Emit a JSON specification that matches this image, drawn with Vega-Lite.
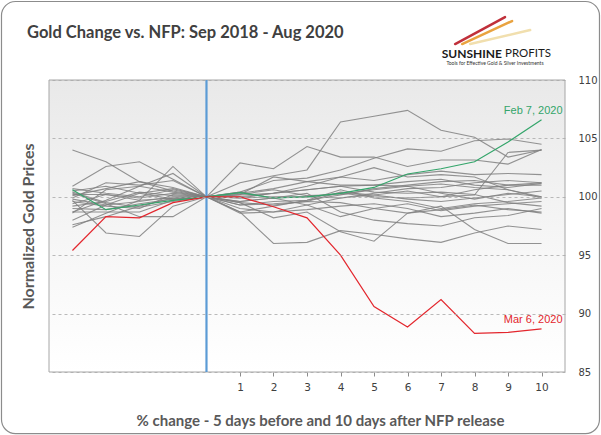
{
  "$schema": "https://vega.github.io/schema/vega-lite/v6.json",
  "width": 516,
  "height": 292,
  "autosize": "none",
  "padding": {"left": 49, "top": 80, "right": 36, "bottom": 63},
  "background": "white",
  "title": {
    "text": "Gold Change vs. NFP: Sep 2018 - Aug 2020",
    "anchor": "start",
    "frame": "group",
    "dx": -22,
    "offset": 0,
    "dy": 54,
    "baseline": "alphabetic",
    "font": "Lato",
    "fontSize": 16.5,
    "fontWeight": "bold",
    "color": "#404040"
  },
  "data": {
    "values": [
      {"s": "s01", "d": -4, "v": 100.9}, {"s": "s01", "d": -3, "v": 102.6}, {"s": "s01", "d": -2, "v": 103.0}, {"s": "s01", "d": -1, "v": 101.5}, {"s": "s01", "d": 0, "v": 100}, {"s": "s01", "d": 1, "v": 101.2}, {"s": "s01", "d": 2, "v": 101.8}, {"s": "s01", "d": 3, "v": 102.3}, {"s": "s01", "d": 4, "v": 106.4}, {"s": "s01", "d": 5, "v": 106.9}, {"s": "s01", "d": 6, "v": 107.4}, {"s": "s01", "d": 7, "v": 105.7}, {"s": "s01", "d": 8, "v": 105.1}, {"s": "s01", "d": 9, "v": 103.4}, {"s": "s01", "d": 10, "v": 104.0},
      {"s": "s02", "d": -4, "v": 104.0}, {"s": "s02", "d": -3, "v": 103.0}, {"s": "s02", "d": -2, "v": 101.3}, {"s": "s02", "d": -1, "v": 100.5}, {"s": "s02", "d": 0, "v": 100}, {"s": "s02", "d": 1, "v": 102.9}, {"s": "s02", "d": 2, "v": 102.4}, {"s": "s02", "d": 3, "v": 104.3}, {"s": "s02", "d": 4, "v": 103.4}, {"s": "s02", "d": 5, "v": 103.4}, {"s": "s02", "d": 6, "v": 102.6}, {"s": "s02", "d": 7, "v": 103.15}, {"s": "s02", "d": 8, "v": 103.15}, {"s": "s02", "d": 9, "v": 102.8}, {"s": "s02", "d": 10, "v": 104.06},
      {"s": "s03", "d": -4, "v": 98.7}, {"s": "s03", "d": -3, "v": 99.7}, {"s": "s03", "d": -2, "v": 100.9}, {"s": "s03", "d": -1, "v": 102.0}, {"s": "s03", "d": 0, "v": 100}, {"s": "s03", "d": 1, "v": 100.4}, {"s": "s03", "d": 2, "v": 101.4}, {"s": "s03", "d": 3, "v": 101.6}, {"s": "s03", "d": 4, "v": 102.3}, {"s": "s03", "d": 5, "v": 103.3}, {"s": "s03", "d": 6, "v": 104.1}, {"s": "s03", "d": 7, "v": 103.9}, {"s": "s03", "d": 8, "v": 104.8}, {"s": "s03", "d": 9, "v": 104.95}, {"s": "s03", "d": 10, "v": 104.5},
      {"s": "s04", "d": -4, "v": 99.9}, {"s": "s04", "d": -3, "v": 101.2}, {"s": "s04", "d": -2, "v": 101.0}, {"s": "s04", "d": -1, "v": 101.4}, {"s": "s04", "d": 0, "v": 100}, {"s": "s04", "d": 1, "v": 99.6}, {"s": "s04", "d": 2, "v": 99.9}, {"s": "s04", "d": 3, "v": 100.0}, {"s": "s04", "d": 4, "v": 100.3}, {"s": "s04", "d": 5, "v": 100.0}, {"s": "s04", "d": 6, "v": 99.9}, {"s": "s04", "d": 7, "v": 100.0}, {"s": "s04", "d": 8, "v": 100.15}, {"s": "s04", "d": 9, "v": 103.8}, {"s": "s04", "d": 10, "v": 104.0},
      {"s": "s05", "d": -4, "v": 99.7}, {"s": "s05", "d": -3, "v": 96.9}, {"s": "s05", "d": -2, "v": 96.6}, {"s": "s05", "d": -1, "v": 99.2}, {"s": "s05", "d": 0, "v": 100}, {"s": "s05", "d": 1, "v": 98.7}, {"s": "s05", "d": 2, "v": 96.0}, {"s": "s05", "d": 3, "v": 96.1}, {"s": "s05", "d": 4, "v": 97.1}, {"s": "s05", "d": 5, "v": 96.8}, {"s": "s05", "d": 6, "v": 96.4}, {"s": "s05", "d": 7, "v": 96.1}, {"s": "s05", "d": 8, "v": 96.9}, {"s": "s05", "d": 9, "v": 97.5}, {"s": "s05", "d": 10, "v": 97.2},
      {"s": "s06", "d": -4, "v": 97.4}, {"s": "s06", "d": -3, "v": 98.6}, {"s": "s06", "d": -2, "v": 99.7}, {"s": "s06", "d": -1, "v": 102.6}, {"s": "s06", "d": 0, "v": 100}, {"s": "s06", "d": 1, "v": 99.5}, {"s": "s06", "d": 2, "v": 98.2}, {"s": "s06", "d": 3, "v": 98.7}, {"s": "s06", "d": 4, "v": 97.0}, {"s": "s06", "d": 5, "v": 96.2}, {"s": "s06", "d": 6, "v": 98.6}, {"s": "s06", "d": 7, "v": 99.2}, {"s": "s06", "d": 8, "v": 97.2}, {"s": "s06", "d": 9, "v": 96.0}, {"s": "s06", "d": 10, "v": 96.0},
      {"s": "s07", "d": -4, "v": 100.3}, {"s": "s07", "d": -3, "v": 99.4}, {"s": "s07", "d": -2, "v": 98.3}, {"s": "s07", "d": -1, "v": 98.3}, {"s": "s07", "d": 0, "v": 100}, {"s": "s07", "d": 1, "v": 100.3}, {"s": "s07", "d": 2, "v": 100.7}, {"s": "s07", "d": 3, "v": 101.3}, {"s": "s07", "d": 4, "v": 101.7}, {"s": "s07", "d": 5, "v": 101.4}, {"s": "s07", "d": 6, "v": 101.9}, {"s": "s07", "d": 7, "v": 102.2}, {"s": "s07", "d": 8, "v": 101.9}, {"s": "s07", "d": 9, "v": 102.0}, {"s": "s07", "d": 10, "v": 101.9},
      {"s": "s08", "d": -4, "v": 98.0}, {"s": "s08", "d": -3, "v": 99.3}, {"s": "s08", "d": -2, "v": 100.3}, {"s": "s08", "d": -1, "v": 100.7}, {"s": "s08", "d": 0, "v": 100}, {"s": "s08", "d": 1, "v": 100.15}, {"s": "s08", "d": 2, "v": 100.3}, {"s": "s08", "d": 3, "v": 100.6}, {"s": "s08", "d": 4, "v": 100.9}, {"s": "s08", "d": 5, "v": 101.0}, {"s": "s08", "d": 6, "v": 101.3}, {"s": "s08", "d": 7, "v": 101.5}, {"s": "s08", "d": 8, "v": 101.0}, {"s": "s08", "d": 9, "v": 100.8}, {"s": "s08", "d": 10, "v": 101.15},
      {"s": "s09", "d": -4, "v": 98.7}, {"s": "s09", "d": -3, "v": 98.7}, {"s": "s09", "d": -2, "v": 98.7}, {"s": "s09", "d": -1, "v": 99.7}, {"s": "s09", "d": 0, "v": 100}, {"s": "s09", "d": 1, "v": 99.9}, {"s": "s09", "d": 2, "v": 100.3}, {"s": "s09", "d": 3, "v": 100.9}, {"s": "s09", "d": 4, "v": 101.7}, {"s": "s09", "d": 5, "v": 102.5}, {"s": "s09", "d": 6, "v": 101.7}, {"s": "s09", "d": 7, "v": 101.9}, {"s": "s09", "d": 8, "v": 101.7}, {"s": "s09", "d": 9, "v": 100.6}, {"s": "s09", "d": 10, "v": 100.0},
      {"s": "s10", "d": -4, "v": 99.4}, {"s": "s10", "d": -3, "v": 100.2}, {"s": "s10", "d": -2, "v": 99.9}, {"s": "s10", "d": -1, "v": 100.3}, {"s": "s10", "d": 0, "v": 100}, {"s": "s10", "d": 1, "v": 99.3}, {"s": "s10", "d": 2, "v": 99.6}, {"s": "s10", "d": 3, "v": 99.7}, {"s": "s10", "d": 4, "v": 100.15}, {"s": "s10", "d": 5, "v": 100.7}, {"s": "s10", "d": 6, "v": 101.0}, {"s": "s10", "d": 7, "v": 101.3}, {"s": "s10", "d": 8, "v": 101.4}, {"s": "s10", "d": 9, "v": 101.0}, {"s": "s10", "d": 10, "v": 101.0},
      {"s": "s11", "d": -4, "v": 100.2}, {"s": "s11", "d": -3, "v": 100.2}, {"s": "s11", "d": -2, "v": 99.7}, {"s": "s11", "d": -1, "v": 99.9}, {"s": "s11", "d": 0, "v": 100}, {"s": "s11", "d": 1, "v": 99.0}, {"s": "s11", "d": 2, "v": 98.7}, {"s": "s11", "d": 3, "v": 99.3}, {"s": "s11", "d": 4, "v": 99.9}, {"s": "s11", "d": 5, "v": 100.15}, {"s": "s11", "d": 6, "v": 100.5}, {"s": "s11", "d": 7, "v": 100.0}, {"s": "s11", "d": 8, "v": 100.6}, {"s": "s11", "d": 9, "v": 101.0}, {"s": "s11", "d": 10, "v": 101.2},
      {"s": "s12", "d": -4, "v": 99.6}, {"s": "s12", "d": -3, "v": 99.2}, {"s": "s12", "d": -2, "v": 99.0}, {"s": "s12", "d": -1, "v": 100.2}, {"s": "s12", "d": 0, "v": 100}, {"s": "s12", "d": 1, "v": 98.7}, {"s": "s12", "d": 2, "v": 99.2}, {"s": "s12", "d": 3, "v": 99.7}, {"s": "s12", "d": 4, "v": 100.6}, {"s": "s12", "d": 5, "v": 99.9}, {"s": "s12", "d": 6, "v": 99.6}, {"s": "s12", "d": 7, "v": 99.0}, {"s": "s12", "d": 8, "v": 99.4}, {"s": "s12", "d": 9, "v": 99.6}, {"s": "s12", "d": 10, "v": 99.9},
      {"s": "s13", "d": -4, "v": 98.6}, {"s": "s13", "d": -3, "v": 100.6}, {"s": "s13", "d": -2, "v": 100.9}, {"s": "s13", "d": -1, "v": 100.4}, {"s": "s13", "d": 0, "v": 100}, {"s": "s13", "d": 1, "v": 98.6}, {"s": "s13", "d": 2, "v": 98.7}, {"s": "s13", "d": 3, "v": 98.9}, {"s": "s13", "d": 4, "v": 99.2}, {"s": "s13", "d": 5, "v": 99.4}, {"s": "s13", "d": 6, "v": 99.0}, {"s": "s13", "d": 7, "v": 98.3}, {"s": "s13", "d": 8, "v": 98.6}, {"s": "s13", "d": 9, "v": 99.0}, {"s": "s13", "d": 10, "v": 98.6},
      {"s": "s14", "d": -4, "v": 100.7}, {"s": "s14", "d": -3, "v": 100.3}, {"s": "s14", "d": -2, "v": 100.0}, {"s": "s14", "d": -1, "v": 100.6}, {"s": "s14", "d": 0, "v": 100}, {"s": "s14", "d": 1, "v": 99.6}, {"s": "s14", "d": 2, "v": 99.9}, {"s": "s14", "d": 3, "v": 100.3}, {"s": "s14", "d": 4, "v": 98.7}, {"s": "s14", "d": 5, "v": 98.0}, {"s": "s14", "d": 6, "v": 97.7}, {"s": "s14", "d": 7, "v": 97.5}, {"s": "s14", "d": 8, "v": 98.2}, {"s": "s14", "d": 9, "v": 98.4}, {"s": "s14", "d": 10, "v": 99.0},
      {"s": "s15", "d": -4, "v": 99.2}, {"s": "s15", "d": -3, "v": 99.6}, {"s": "s15", "d": -2, "v": 100.4}, {"s": "s15", "d": -1, "v": 100.1}, {"s": "s15", "d": 0, "v": 100}, {"s": "s15", "d": 1, "v": 100.4}, {"s": "s15", "d": 2, "v": 99.9}, {"s": "s15", "d": 3, "v": 99.3}, {"s": "s15", "d": 4, "v": 98.3}, {"s": "s15", "d": 5, "v": 99.0}, {"s": "s15", "d": 6, "v": 99.4}, {"s": "s15", "d": 7, "v": 98.8}, {"s": "s15", "d": 8, "v": 99.2}, {"s": "s15", "d": 9, "v": 99.4}, {"s": "s15", "d": 10, "v": 99.6},
      {"s": "s16", "d": -4, "v": 100.4}, {"s": "s16", "d": -3, "v": 99.5}, {"s": "s16", "d": -2, "v": 99.1}, {"s": "s16", "d": -1, "v": 99.6}, {"s": "s16", "d": 0, "v": 100}, {"s": "s16", "d": 1, "v": 100.0}, {"s": "s16", "d": 2, "v": 100.3}, {"s": "s16", "d": 3, "v": 100.6}, {"s": "s16", "d": 4, "v": 100.9}, {"s": "s16", "d": 5, "v": 100.4}, {"s": "s16", "d": 6, "v": 100.3}, {"s": "s16", "d": 7, "v": 100.4}, {"s": "s16", "d": 8, "v": 100.2}, {"s": "s16", "d": 9, "v": 99.5}, {"s": "s16", "d": 10, "v": 99.2},
      {"s": "s17", "d": -4, "v": 99.0}, {"s": "s17", "d": -3, "v": 98.9}, {"s": "s17", "d": -2, "v": 99.4}, {"s": "s17", "d": -1, "v": 99.8}, {"s": "s17", "d": 0, "v": 100}, {"s": "s17", "d": 1, "v": 99.9}, {"s": "s17", "d": 2, "v": 100.0}, {"s": "s17", "d": 3, "v": 100.0}, {"s": "s17", "d": 4, "v": 99.9}, {"s": "s17", "d": 5, "v": 100.3}, {"s": "s17", "d": 6, "v": 100.7}, {"s": "s17", "d": 7, "v": 100.8}, {"s": "s17", "d": 8, "v": 101.2}, {"s": "s17", "d": 9, "v": 101.4}, {"s": "s17", "d": 10, "v": 101.2},
      {"s": "s18", "d": -4, "v": 97.6}, {"s": "s18", "d": -3, "v": 98.3}, {"s": "s18", "d": -2, "v": 99.2}, {"s": "s18", "d": -1, "v": 99.9}, {"s": "s18", "d": 0, "v": 100}, {"s": "s18", "d": 1, "v": 100.2}, {"s": "s18", "d": 2, "v": 101.7}, {"s": "s18", "d": 3, "v": 101.3}, {"s": "s18", "d": 4, "v": 101.0}, {"s": "s18", "d": 5, "v": 101.0}, {"s": "s18", "d": 6, "v": 100.9}, {"s": "s18", "d": 7, "v": 101.1}, {"s": "s18", "d": 8, "v": 100.8}, {"s": "s18", "d": 9, "v": 100.6}, {"s": "s18", "d": 10, "v": 99.9},
      {"s": "s19", "d": -4, "v": 100.1}, {"s": "s19", "d": -3, "v": 100.7}, {"s": "s19", "d": -2, "v": 101.3}, {"s": "s19", "d": -1, "v": 100.8}, {"s": "s19", "d": 0, "v": 100}, {"s": "s19", "d": 1, "v": 99.3}, {"s": "s19", "d": 2, "v": 99.4}, {"s": "s19", "d": 3, "v": 99.6}, {"s": "s19", "d": 4, "v": 99.5}, {"s": "s19", "d": 5, "v": 99.0}, {"s": "s19", "d": 6, "v": 98.6}, {"s": "s19", "d": 7, "v": 98.9}, {"s": "s19", "d": 8, "v": 99.3}, {"s": "s19", "d": 9, "v": 98.9}, {"s": "s19", "d": 10, "v": 98.7},
      {"s": "s20", "d": -4, "v": 99.8}, {"s": "s20", "d": -3, "v": 99.3}, {"s": "s20", "d": -2, "v": 99.6}, {"s": "s20", "d": -1, "v": 100.0}, {"s": "s20", "d": 0, "v": 100}, {"s": "s20", "d": 1, "v": 100.2}, {"s": "s20", "d": 2, "v": 100.6}, {"s": "s20", "d": 3, "v": 100.1}, {"s": "s20", "d": 4, "v": 100.2}, {"s": "s20", "d": 5, "v": 100.6}, {"s": "s20", "d": 6, "v": 100.9}, {"s": "s20", "d": 7, "v": 100.3}, {"s": "s20", "d": 8, "v": 99.8}, {"s": "s20", "d": 9, "v": 100.3}, {"s": "s20", "d": 10, "v": 100.0},
      {"s": "s21", "d": -4, "v": 100.5}, {"s": "s21", "d": -3, "v": 100.9}, {"s": "s21", "d": -2, "v": 100.3}, {"s": "s21", "d": -1, "v": 99.8}, {"s": "s21", "d": 0, "v": 100}, {"s": "s21", "d": 1, "v": 99.5}, {"s": "s21", "d": 2, "v": 99.3}, {"s": "s21", "d": 3, "v": 99.6}, {"s": "s21", "d": 4, "v": 100.4}, {"s": "s21", "d": 5, "v": 100.15}, {"s": "s21", "d": 6, "v": 99.8}, {"s": "s21", "d": 7, "v": 99.6}, {"s": "s21", "d": 8, "v": 99.9}, {"s": "s21", "d": 9, "v": 100.2}, {"s": "s21", "d": 10, "v": 100.5},
      {"s": "Feb 7, 2020", "d": -4, "v": 100.6}, {"s": "Feb 7, 2020", "d": -3, "v": 98.9}, {"s": "Feb 7, 2020", "d": -2, "v": 99.3}, {"s": "Feb 7, 2020", "d": -1, "v": 99.7}, {"s": "Feb 7, 2020", "d": 0, "v": 100}, {"s": "Feb 7, 2020", "d": 1, "v": 100.35}, {"s": "Feb 7, 2020", "d": 2, "v": 99.9}, {"s": "Feb 7, 2020", "d": 3, "v": 100.0}, {"s": "Feb 7, 2020", "d": 4, "v": 100.3}, {"s": "Feb 7, 2020", "d": 5, "v": 100.8}, {"s": "Feb 7, 2020", "d": 6, "v": 101.95}, {"s": "Feb 7, 2020", "d": 7, "v": 102.4}, {"s": "Feb 7, 2020", "d": 8, "v": 103.0}, {"s": "Feb 7, 2020", "d": 9, "v": 104.7}, {"s": "Feb 7, 2020", "d": 10, "v": 106.6},
      {"s": "Mar 6, 2020", "d": -4, "v": 95.4}, {"s": "Mar 6, 2020", "d": -3, "v": 98.3}, {"s": "Mar 6, 2020", "d": -2, "v": 98.2}, {"s": "Mar 6, 2020", "d": -1, "v": 99.5}, {"s": "Mar 6, 2020", "d": 0, "v": 100}, {"s": "Mar 6, 2020", "d": 1, "v": 100.0}, {"s": "Mar 6, 2020", "d": 2, "v": 99.15}, {"s": "Mar 6, 2020", "d": 3, "v": 98.2}, {"s": "Mar 6, 2020", "d": 4, "v": 95.0}, {"s": "Mar 6, 2020", "d": 5, "v": 90.6}, {"s": "Mar 6, 2020", "d": 6, "v": 88.85}, {"s": "Mar 6, 2020", "d": 7, "v": 91.2}, {"s": "Mar 6, 2020", "d": 8, "v": 88.3}, {"s": "Mar 6, 2020", "d": 9, "v": 88.4}, {"s": "Mar 6, 2020", "d": 10, "v": 88.7}
    ]
  },
  "layer": [
    {
      "data": {"values": [{"xa": -6.118, "xb": 11.729, "ya": 79.73, "yb": 116.72}]},
      "mark": {"type": "rect", "cornerRadius": 14, "fill": "white", "fillOpacity": 0, "stroke": "#8c8c8c", "strokeWidth": 1.2},
      "encoding": {
        "x": {"field": "xa", "type": "quantitative"},
        "x2": {"field": "xb"},
        "y": {"field": "ya", "type": "quantitative"},
        "y2": {"field": "yb"}
      }
    },
    {
      "data": {"values": [{"xa": -4.7, "xb": 10.7, "ya": 85, "yb": 110}]},
      "mark": {
        "type": "rect",
        "stroke": "#a6a6a6",
        "strokeWidth": 1,
        "color": {
          "gradient": "linear",
          "x1": 0, "y1": 0, "x2": 0, "y2": 1,
          "stops": [
            {"offset": 0, "color": "#e9e9e9"},
            {"offset": 0.55, "color": "#f6f6f6"},
            {"offset": 1, "color": "#ffffff"}
          ]
        }
      },
      "encoding": {
        "x": {"field": "xa", "type": "quantitative"},
        "x2": {"field": "xb"},
        "y": {"field": "ya", "type": "quantitative"},
        "y2": {"field": "yb"}
      }
    },
    {
      "transform": [{"filter": "indexof(['Feb 7, 2020', 'Mar 6, 2020'], datum.s) < 0"}],
      "mark": {"type": "line", "color": "#808080", "strokeWidth": 1.1, "opacity": 0.85},
      "encoding": {
        "x": {
          "field": "d",
          "type": "quantitative",
          "scale": {"domain": [-4.7, 10.7], "nice": false, "zero": false},
          "axis": {
            "values": [1, 2, 3, 4, 5, 6, 7, 8, 9, 10],
            "grid": false,
            "domain": false,
            "tickSize": 4,
            "tickColor": "#8c8c8c",
            "labelPadding": 6,
            "labelFont": "DejaVu Sans",
            "labelFontSize": 10.5,
            "labelColor": "#404040",
            "title": "% change - 5 days before and 10 days after NFP release",
            "titleX": 271,
            "titleY": 48,
            "titleAlign": "center",
            "titleBaseline": "middle",
            "titleFont": "Lato",
            "titleFontSize": 15,
            "titleFontWeight": "bold",
            "titleColor": "#595959"
          }
        },
        "y": {
          "field": "v",
          "type": "quantitative",
          "scale": {"domain": [85, 110], "nice": false, "zero": false},
          "axis": {
            "orient": "right",
            "values": [85, 90, 95, 100, 105, 110],
            "grid": true,
            "gridDash": [3, 3],
            "gridColor": "#a8a8a8",
            "gridWidth": 0.8,
            "ticks": false,
            "domain": false,
            "labelPadding": 13,
            "labelFont": "DejaVu Sans",
            "labelFontSize": 10,
            "labelColor": "#404040",
            "title": "Normalized Gold Prices",
            "titleX": -537,
            "titleY": 146,
            "titleAngle": -90,
            "titleAlign": "center",
            "titleBaseline": "middle",
            "titleFont": "Lato",
            "titleFontSize": 16,
            "titleFontWeight": "bold",
            "titleColor": "#595959",
            "zindex": 1
          }
        },
        "detail": {"field": "s"}
      }
    },
    {
      "data": {"values": [{"xa": 0}]},
      "mark": {"type": "rule", "color": "#5b9bd5", "strokeWidth": 2.2},
      "encoding": {"x": {"field": "xa", "type": "quantitative"}}
    },
    {
      "transform": [{"filter": "indexof(['Feb 7, 2020', 'Mar 6, 2020'], datum.s) >= 0"}],
      "mark": {"type": "line", "strokeWidth": 1.2},
      "encoding": {
        "x": {"field": "d", "type": "quantitative"},
        "y": {"field": "v", "type": "quantitative"},
        "color": {
          "field": "s",
          "scale": {"domain": ["Feb 7, 2020", "Mar 6, 2020"], "range": ["#33a56a", "#e3262d"]},
          "legend": null
        }
      }
    },
    {
      "transform": [{"filter": "indexof(['Feb 7, 2020', 'Mar 6, 2020'], datum.s) >= 0 && datum.d == 10"}],
      "mark": {"type": "text", "align": "right", "dx": 21, "dy": -9, "font": "Liberation Sans", "fontSize": 11},
      "encoding": {
        "x": {"field": "d", "type": "quantitative"},
        "y": {"field": "v", "type": "quantitative"},
        "text": {"field": "s"},
        "color": {
          "field": "s",
          "scale": {"domain": ["Feb 7, 2020", "Mar 6, 2020"], "range": ["#33a56a", "#e3262d"]},
          "legend": null
        }
      }
    },
    {
      "data": {"values": [{"xa": 7.42, "ya": 113.08, "xb": 8.91, "yb": 115.39}]},
      "mark": {"type": "rule", "strokeWidth": 2.5, "strokeCap": "round", "color": "#c0303a"},
      "encoding": {
        "x": {"field": "xa", "type": "quantitative"},
        "x2": {"field": "xb"},
        "y": {"field": "ya", "type": "quantitative"},
        "y2": {"field": "yb"}
      }
    },
    {
      "data": {"values": [{"xa": 7.63, "ya": 113.08, "xb": 9.12, "yb": 115.05}]},
      "mark": {"type": "rule", "strokeWidth": 2.5, "strokeCap": "round", "color": "#e9a340"},
      "encoding": {
        "x": {"field": "xa", "type": "quantitative"},
        "x2": {"field": "xb"},
        "y": {"field": "ya", "type": "quantitative"},
        "y2": {"field": "yb"}
      }
    },
    {
      "data": {"values": [{"xa": 7.87, "ya": 113.08, "xb": 9.66, "yb": 114.28}]},
      "mark": {"type": "rule", "strokeWidth": 2.5, "strokeCap": "round", "color": "#f1dfae"},
      "encoding": {
        "x": {"field": "xa", "type": "quantitative"},
        "x2": {"field": "xb"},
        "y": {"field": "ya", "type": "quantitative"},
        "y2": {"field": "yb"}
      }
    },
    {
      "data": {"values": [{"xa": 8.82, "ya": 112.23, "t": "SUNSHINE"}]},
      "mark": {"type": "text", "align": "right", "baseline": "middle", "font": "Lato", "fontSize": 12, "fontWeight": "bold", "color": "#1a1a1a"},
      "encoding": {
        "x": {"field": "xa", "type": "quantitative"},
        "y": {"field": "ya", "type": "quantitative"},
        "text": {"field": "t"}
      }
    },
    {
      "data": {"values": [{"xa": 8.91, "ya": 112.23, "t": "PROFITS"}]},
      "mark": {"type": "text", "align": "left", "baseline": "middle", "font": "Lato", "fontSize": 11.5, "color": "#1a1a1a"},
      "encoding": {
        "x": {"field": "xa", "type": "quantitative"},
        "y": {"field": "ya", "type": "quantitative"},
        "text": {"field": "t"}
      }
    },
    {
      "data": {"values": [{"xa": 8.61, "ya": 111.46, "t": "Tools for Effective Gold & Silver Investments"}]},
      "mark": {"type": "text", "align": "center", "baseline": "middle", "font": "Lato", "fontSize": 5, "color": "#333333"},
      "encoding": {
        "x": {"field": "xa", "type": "quantitative"},
        "y": {"field": "ya", "type": "quantitative"},
        "text": {"field": "t"}
      }
    }
  ],
  "config": {
    "view": {"stroke": null}
  }
}
